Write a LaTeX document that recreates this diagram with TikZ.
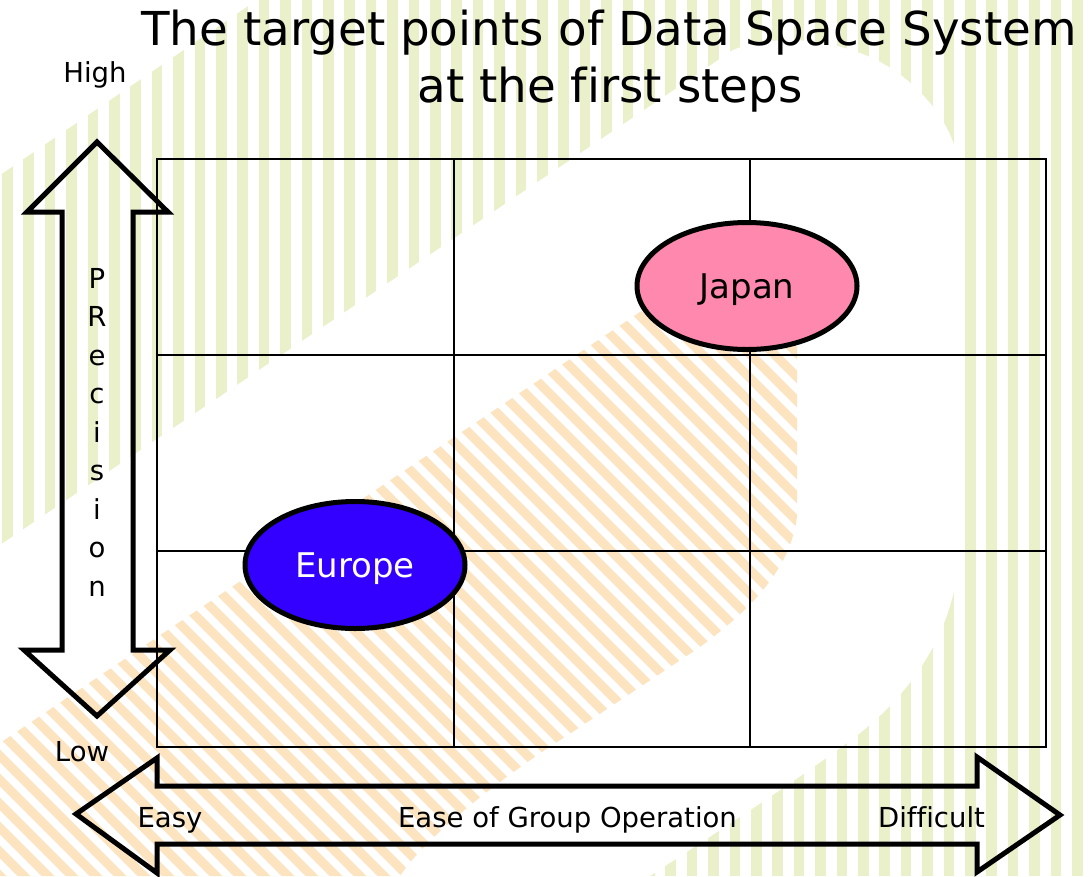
\documentclass[tikz,border=0pt]{standalone}
\usepackage{fontspec}
\usetikzlibrary{shapes.geometric}
\setmainfont[Ligatures=NoCommon]{DejaVu Sans}
\definecolor{stripeG}{HTML}{E9F0CA}
\definecolor{stripeO}{HTML}{FCE4C0}
\definecolor{japanpink}{HTML}{FF88AE}
\definecolor{europeblue}{HTML}{3300FF}
\begin{document}
\begin{tikzpicture}[x=1pt,y=-1pt,
  gridline/.style={line width=2pt, draw=black},
  bigarrow/.style={line width=5pt, draw=black, line join=miter},
  region/.style={ellipse, draw=black, line width=5pt, minimum width=220pt, minimum height=127pt, inner sep=0pt,
    font=\fontsize{34}{34}\selectfont, text height=25pt, text depth=0pt},
  lbl/.style={font=\fontsize{27.5}{27.5}\selectfont, inner sep=0pt, anchor=base},
  ttl/.style={font=\fontsize{46.75}{46.75}\selectfont, inner sep=0pt, anchor=base}]
\useasboundingbox (0,0) rectangle (1089,876);
\fill[white] (0,0) rectangle (1089,876);
% green vertical stripes
\foreach \i in {0,...,50} \fill[stripeG] ({2+21.4*\i},0) rectangle ++(10.5,876);
% white areas
\fill[white] (0,0) -- (257,0) -- (0,175) -- cycle;
\fill[white] (0,545) -- (733,50) .. controls (780,30) and (860,40) .. (907,80)
  .. controls (940,108) and (958,140) .. (960,175) -- (960,545)
  .. controls (958,620) and (920,690) .. (847,743)
  .. controls (790,785) and (720,830) .. (650,876) -- (0,876) -- cycle;
% orange diagonal stripes
\begin{scope}
\clip (0,743) -- (683,283) .. controls (730,252) and (790,260) .. (797,300) -- (797,517)
  .. controls (790,570) and (750,610) .. (700,647) -- (571,733)
  .. controls (520,765) and (430,830) .. (400,876) -- (0,876) -- cycle;
\foreach \c in {-900,-876,...,1100} \draw[stripeO, line width=9pt] (\c,0) -- ++(900,900);
\end{scope}
% grid
\coordinate (tl) at (157,159);
\coordinate (br) at (1046,747);
\draw[gridline] (tl) rectangle (br);
\draw[gridline] (454,159) -- (454,747) (750,159) -- (750,747);
\draw[gridline] (157,355) -- (1046,355) (157,551) -- (1046,551);
% arrows
\draw[bigarrow] (97,142) -- (168,212) -- (133,212) -- (133,650) -- (170,650) -- (97,716)
  -- (24,650) -- (62,650) -- (62,212) -- (27,212) -- cycle;
\draw[bigarrow] (76,814) -- (157,758) -- (157,786) -- (977,786) -- (977,757) -- (1060,815)
  -- (977,872) -- (977,844) -- (157,844) -- (157,873) -- cycle;
% ellipses
\node[region, fill=japanpink] (japan) at (747,286) {Japan};
\node[region, fill=europeblue, text=white] (europe) at (355,565) {Europe};
% texts
\node[ttl] (title1) at (609,45) {The target points of Data Space System};
\node[ttl] (title2) at (610,102) {at the first steps};
\node[lbl] (high) at (95,82) {High};
\node[lbl] (low) at (82,761) {Low};
\node[font=\fontsize{27.5}{38.5}\selectfont, inner sep=0pt, anchor=north, align=center] (prec) at (97,268)
  {P\\R\\e\\c\\i\\s\\i\\o\\n};
\node[lbl] (easy) at (170,827) {Easy};
\node[lbl] (ease) at (567.5,827) {Ease of Group Operation};
\node[lbl] (diff) at (931.5,827) {Difficult};
\end{tikzpicture}
\end{document}
